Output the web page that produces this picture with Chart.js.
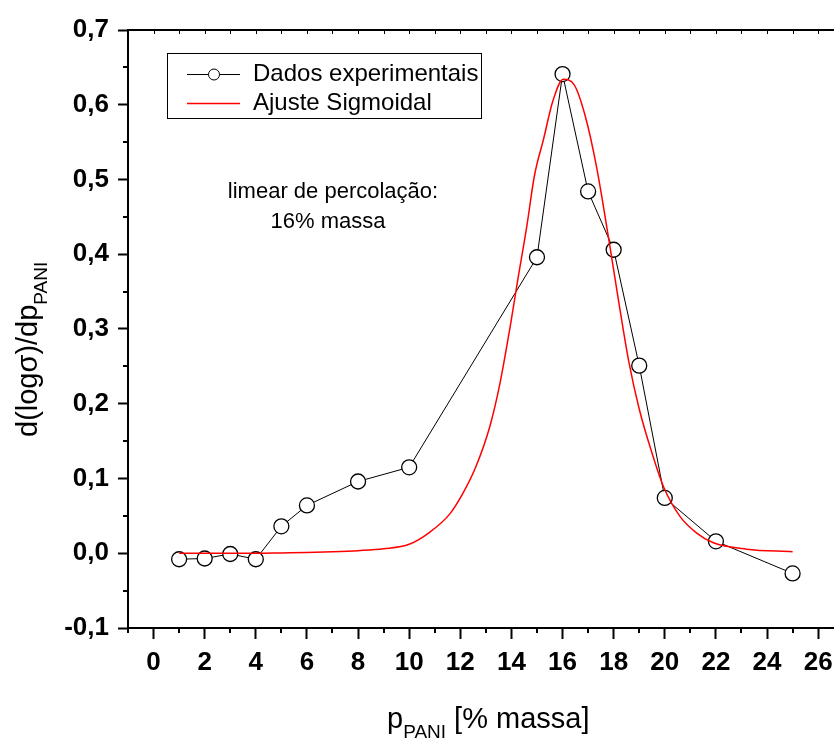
<!DOCTYPE html>
<html><head><meta charset="utf-8">
<script src="https://cdn.jsdelivr.net/npm/chart.js@4"></script>
<style>html,body{margin:0;padding:0;background:#fff;}#wrap{width:834px;height:744px;}</style>
</head><body><div id="wrap"><canvas id="c" width="834" height="744"></canvas></div>
<script>
// ---- data ----
const expX = [1, 2, 3, 4, 5, 6, 8, 10, 15, 16, 17, 18, 19, 20, 22, 25];
const expY = [-0.008, -0.007, -0.001, -0.008, 0.036, 0.064, 0.096, 0.115, 0.396, 0.641, 0.484, 0.406, 0.251, 0.074, 0.016, -0.027];
const fitX = [1, 2, 3, 4, 5, 6, 7, 8, 9, 10, 10.8, 11.6, 12.1, 12.6, 13.15, 13.55, 13.95, 14.25, 14.6, 14.9, 15.25, 15.63, 16.03, 16.45, 16.88, 17.33, 17.8, 18.2, 18.6, 19.0, 19.5, 19.95, 20.6, 21.25, 21.9, 23.2, 25];
const fitY = [0.000, 0.000, 0.000, 0.000, 0.0005, 0.001, 0.002, 0.0035, 0.006, 0.012, 0.028, 0.053, 0.080, 0.115, 0.169, 0.227, 0.303, 0.366, 0.437, 0.505, 0.553, 0.606, 0.634, 0.627, 0.586, 0.517, 0.422, 0.336, 0.255, 0.193, 0.134, 0.089, 0.049, 0.027, 0.014, 0.0055, 0.002];
const xTickValues = [0, 2, 4, 6, 8, 10, 12, 14, 16, 18, 20, 22, 24, 26];
const xMinorValues = [-1, 1, 3, 5, 7, 9, 11, 13, 15, 17, 19, 21, 23, 25];
const yTickValues = [-0.1, 0, 0.1, 0.2, 0.3, 0.4, 0.5, 0.6, 0.7];
const yMinorValues = [-0.05, 0.05, 0.15, 0.25, 0.35, 0.45, 0.55, 0.65];
const legendLabels = ['Dados experimentais', 'Ajuste Sigmoidal'];
const noteLines = ['limear de percolação:', '16% massa'];
const xTitleParts = ['p', 'PANI', ' [% massa]'];
const yTitleParts = ['d(logσ)/dp', 'PANI'];

const FONT = '"Liberation Sans", Arial, Helvetica, sans-serif';

const decorPlugin = {
  id: 'decor',
  afterDraw(chart) {
    const ctx = chart.ctx;
    const xs = chart.scales.x, ys = chart.scales.y;
    const a = chart.chartArea;
    ctx.save();
    ctx.strokeStyle = '#000';
    ctx.lineWidth = 2;
    xMinorValues.forEach(v => {
      const px = Math.round(xs.getPixelForValue(v));
      ctx.beginPath(); ctx.moveTo(px, a.bottom); ctx.lineTo(px, a.bottom + 5); ctx.stroke();
    });
    yMinorValues.forEach(v => {
      const py = Math.round(ys.getPixelForValue(v));
      ctx.beginPath(); ctx.moveTo(a.left, py); ctx.lineTo(a.left - 5, py); ctx.stroke();
    });
    // top axis line with small inward ticks
    ctx.lineWidth = 2;
    ctx.beginPath(); ctx.moveTo(a.left - 1, a.top); ctx.lineTo(chart.width, a.top); ctx.stroke();
    ctx.lineWidth = 1;
    for (let v = -1; v <= 26; v++) {
      const px = Math.round(xs.getPixelForValue(v)) + 0.5;
      ctx.beginPath(); ctx.moveTo(px, a.top); ctx.lineTo(px, a.top + 4); ctx.stroke();
    }
    // legend
    ctx.lineWidth = 1;
    ctx.strokeStyle = '#000';
    ctx.strokeRect(167.5, 53.5, 314, 65);
    ctx.beginPath(); ctx.moveTo(187, 74.5); ctx.lineTo(240, 74.5); ctx.stroke();
    ctx.beginPath(); ctx.arc(214, 74.5, 5.5, 0, Math.PI * 2);
    ctx.fillStyle = '#fff'; ctx.fill(); ctx.stroke();
    ctx.strokeStyle = '#ff0000';
    ctx.lineWidth = 1.5;
    ctx.beginPath(); ctx.moveTo(187, 103.5); ctx.lineTo(240, 103.5); ctx.stroke();
    ctx.fillStyle = '#000';
    ctx.font = '24px ' + FONT;
    ctx.textBaseline = 'middle';
    ctx.textAlign = 'left';
    ctx.fillText(legendLabels[0], 253, 74);
    ctx.fillText(legendLabels[1], 253, 103);
    // note
    ctx.font = '22px ' + FONT;
    ctx.textAlign = 'center';
    ctx.fillText(noteLines[0], 333, 192);
    ctx.fillText(noteLines[1], 328, 222);
    // x title
    ctx.textAlign = 'left';
    ctx.textBaseline = 'alphabetic';
    const big = '29px ' + FONT, small = '19px ' + FONT;
    ctx.font = big; const w0 = ctx.measureText(xTitleParts[0]).width;
    ctx.font = small; const w1 = ctx.measureText(xTitleParts[1]).width;
    const x0 = 387;
    ctx.font = big; ctx.fillText(xTitleParts[0], x0, 728);
    ctx.font = small; ctx.fillText(xTitleParts[1], x0 + w0, 738);
    ctx.font = big; ctx.fillText(xTitleParts[2], x0 + w0 + w1, 728);
    // y title
    ctx.save();
    ctx.translate(37, 437);
    ctx.rotate(-Math.PI / 2);
    ctx.font = big; ctx.fillText(yTitleParts[0], 0, 0);
    const wy = ctx.measureText(yTitleParts[0]).width;
    ctx.font = small; ctx.fillText(yTitleParts[1], wy, 10);
    ctx.restore();
    ctx.restore();
  }
};

new Chart(document.getElementById('c'), {
  type: 'scatter',
  data: {
    datasets: [
      {
        label: legendLabels[0],
        data: expX.map((x, i) => ({ x: x, y: expY[i] })),
        showLine: true,
        borderColor: '#000',
        borderWidth: 1,
        pointRadius: 7.5,
        pointBackgroundColor: '#fff',
        pointBorderColor: '#000',
        pointBorderWidth: 1.3,
        tension: 0,
        order: 1
      },
      {
        label: legendLabels[1],
        data: fitX.map((x, i) => ({ x: x, y: fitY[i] })),
        showLine: true,
        borderColor: '#ff0000',
        borderWidth: 1.5,
        pointRadius: 0,
        cubicInterpolationMode: 'monotone',
        order: 0
      }
    ]
  },
  options: {
    responsive: false,
    devicePixelRatio: 1,
    animation: false,
    layout: { autoPadding: false, padding: { top: 30, right: 0, left: 0, bottom: 0 } },
    plugins: { legend: { display: false }, tooltip: { enabled: false } },
    scales: {
      x: {
        type: 'linear', min: -1, max: 26.62,
        afterBuildTicks: s => { s.ticks = xTickValues.map(v => ({ value: v })); },
        afterFit: s => { s.height = 116; s.paddingLeft = 0; s.paddingRight = 0; },
        ticks: { color: '#000', font: { family: FONT, size: 26, weight: 'bold' }, padding: 8, maxRotation: 0, autoSkip: false, callback: v => String(v) },
        grid: { drawOnChartArea: false, drawTicks: true, tickLength: 11, tickWidth: 2, tickColor: '#000' },
        border: { color: '#000', width: 2 }
      },
      y: {
        type: 'linear', min: -0.1, max: 0.7,
        afterBuildTicks: s => { s.ticks = yTickValues.map(v => ({ value: v })); },
        afterFit: s => { s.width = 128; s.paddingTop = 0; s.paddingBottom = 0; },
        ticks: { color: '#000', font: { family: FONT, size: 26, weight: 'bold' }, padding: 9, callback: v => v.toFixed(1).replace('.', ',') },
        grid: { drawOnChartArea: false, drawTicks: true, tickLength: 10, tickWidth: 2, tickColor: '#000' },
        border: { color: '#000', width: 2 }
      }
    }
  },
  plugins: [decorPlugin]
});
</script>
</body></html>
